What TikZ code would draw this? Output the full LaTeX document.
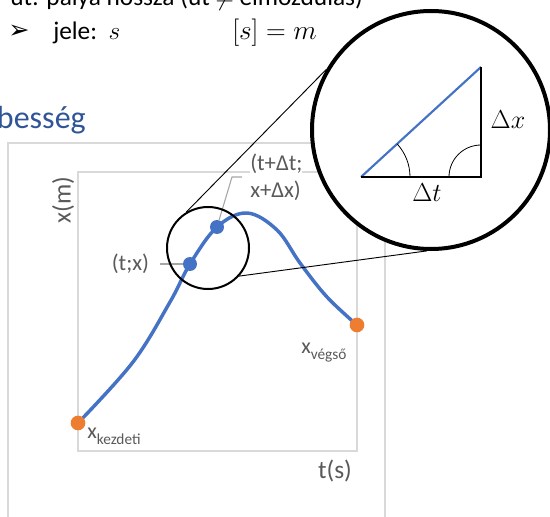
\RequirePackage{fix-cm}
\documentclass[tikz,border=0pt]{standalone}
\usepackage{fontspec}
\setmainfont{Carlito}
\newfontfamily\nyilfont{DejaVu Sans}
\usepackage{xcolor}
\usepackage{tikz}
\usetikzlibrary{positioning, calc}
\definecolor{gorbekek}{HTML}{4472C4}
\definecolor{pontnarancs}{HTML}{ED7D31}
\definecolor{keretszurke}{HTML}{D9D9D9}
\definecolor{feliratszurke}{HTML}{595959}
\definecolor{vezetoszurke}{HTML}{A6A6A6}
\definecolor{cimkek}{HTML}{2F5597}

\tikzset{
  keret/.style={draw=keretszurke, line width=1.1pt},
  kpont/.style={circle, fill=gorbekek, minimum size=10.5pt, inner sep=0pt},
  npont/.style={circle, fill=pontnarancs, minimum size=11pt, inner sep=0pt},
  cimke/.style={text=feliratszurke, font=\fontsize{17}{20}\selectfont, inner sep=0pt},
  szoveg/.style={anchor=base west, inner sep=0pt, font=\fontsize{19}{23}\selectfont},
  vezeto/.style={draw=vezetoszurke, line width=0.8pt},
}

\begin{document}
\begin{tikzpicture}[x=0.75pt, y=-0.75pt]
    \useasboundingbox (0,0) rectangle (550,517);
    \clip (0,0) rectangle (550,517);

    % felső sorok
    \node[szoveg] (ut) at (10,6) {út: pálya hossza (út $\neq$ elmozdulás)};
    \node[szoveg, font=\nyilfont\fontsize{19}{22}\selectfont] (nyil) at (8,39) {➢};
    \node[szoveg] (jele) at (53,40) {jele:\ \ $s$};
    \node[szoveg, font=\fontsize{20.5}{24}\selectfont] (mertek) at (232,40) {$[s]=m$};
    \node[anchor=base east, inner sep=0pt, text=cimkek, font=\fontsize{24}{28}\selectfont] (seb) at (86,128) {sebesség};

    % keretek
    \draw[keret] (8,143) rectangle (385,540);
    \draw[keret] (78,172) rectangle (357,451);
    \node[cimke, font=\fontsize{19}{23}\selectfont, rotate=90] (tengx) at (63,200) {x(m)};
    \node[cimke, font=\fontsize{19}{23}\selectfont] (tengt) at (335,471) {t(s)};

    % görbe
    \draw[gorbekek, line width=2.6pt, line cap=round] plot[smooth, tension=0.6] coordinates
        {(78,423) (133,362) (170,302) (190,264) (217,227) (247,213) (277,230) (300,263) (327,297) (357,325)};

    % pontok
    \node[npont] (kezd) at (78,423) {};
    \node[npont] (veg) at (357,325) {};
    \node[kpont] (p1) at (190,264) {};
    \node[kpont] (p2) at (217,227) {};

    % feliratok
    \node[cimke, anchor=base west, font=\fontsize{16.5}{19}\selectfont] (xk) at (87,438)
        {x\raisebox{-4.5pt}{\fontsize{11.5}{13}\selectfont kezdeti}};
    \node[cimke, anchor=base west, font=\fontsize{16.5}{19}\selectfont] (xv) at (301,353)
        {x\raisebox{-4.5pt}{\fontsize{11.5}{13}\selectfont végső}};
    \coordinate (v1) at (160,264);
    \node[cimke, left=8pt of v1] (tx) {(t;x)};
    \draw[vezeto] (v1) -- (p1);
    \coordinate (t2) at (232,177);
    \coordinate (v2) at (242,177);
    \node[cimke, fill=white, align=left, right=6pt of v2] (dtx) {(t+Δt;\\x+Δx)};
    \draw[vezeto] (p2) -- (t2) -- (v2);

    % nagyítás
    \node[circle, draw, line width=1.5pt, minimum size=61.5pt, inner sep=0pt] (kis) at (208,248) {};
    \node[circle, draw, fill=white, line width=3pt, minimum size=178.5pt, inner sep=0pt] (nagy) at (431,130) {};
    \draw[line width=0.7pt] (kis.121) -- (nagy.150);
    \draw[line width=0.7pt] (kis.-42) -- (nagy.-92);

    % háromszög
    \draw[gorbekek, line width=1.6pt] (361,177) -- (481,67);
    \draw[line width=2pt] (361,177) -- (481,177) -- (481,67);
    \draw[line width=0.6pt] (410,177) arc[start angle=0, end angle=42.5, radius=36.75pt];
    \draw[line width=0.6pt] (481,145) arc[start angle=90, end angle=180, radius=24pt];
    \node[inner sep=0pt, font=\fontsize{19.5}{23}\selectfont] (dx) at (508,120) {$\Delta x$};
    \node[inner sep=0pt, font=\fontsize{19.5}{23}\selectfont] (dt) at (427,193) {$\Delta t$};
\end{tikzpicture}
\end{document}
